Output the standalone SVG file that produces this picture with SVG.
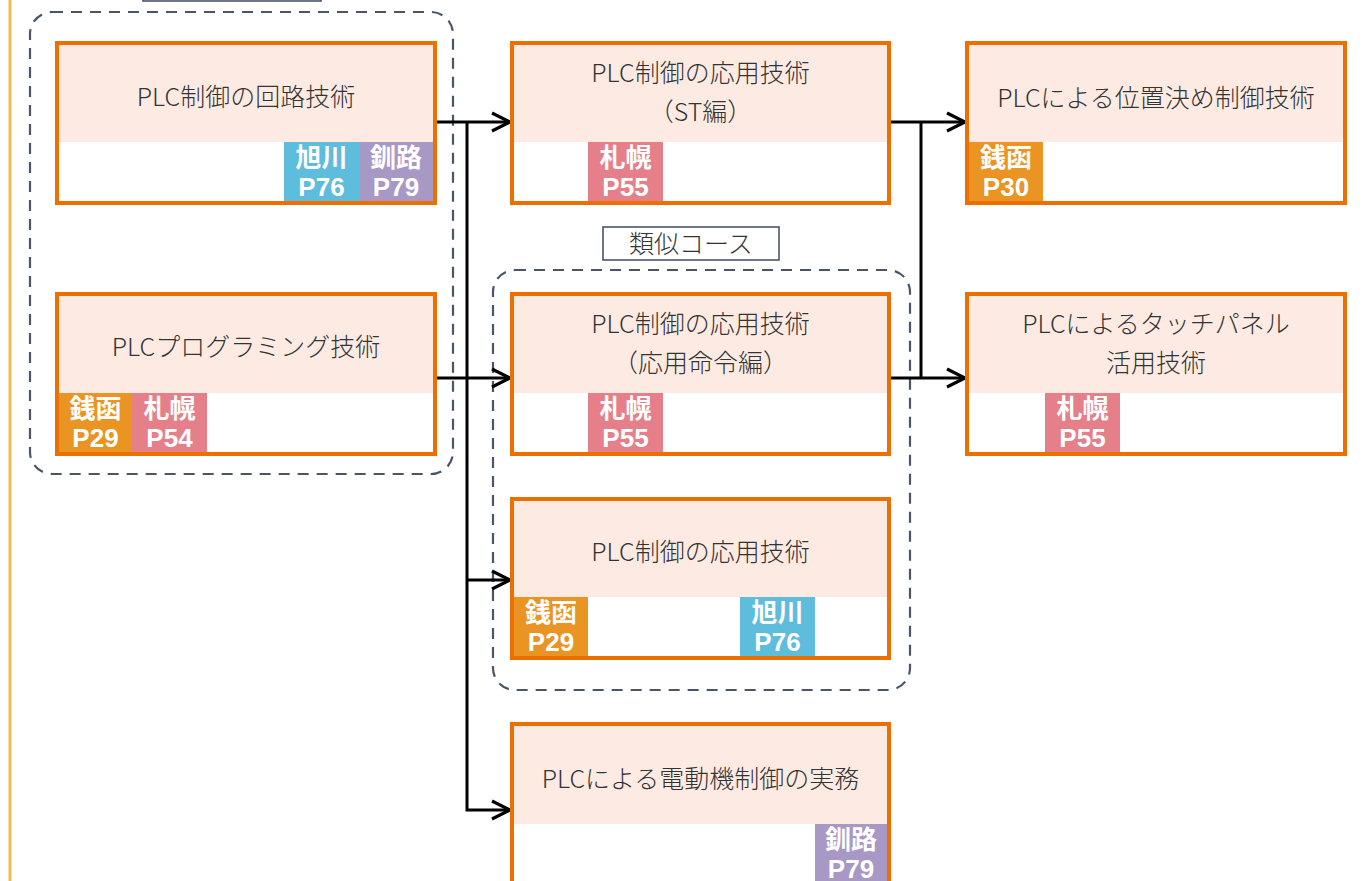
<svg xmlns="http://www.w3.org/2000/svg" width="1368" height="881" viewBox="0 0 1368 881">
<defs>
<style>
.node{fill:none;stroke:#ec6f00;stroke-width:4}
.pink{fill:#fdebe3}
.t{font-family:"Noto Sans CJK JP","Liberation Sans",sans-serif;font-size:25px;fill:#333;text-anchor:middle;font-weight:300}
.b{font-family:"Liberation Sans","Noto Sans CJK JP",sans-serif;font-size:26px;fill:#fff;text-anchor:middle;font-weight:700}
.grp{fill:none;stroke:#4a5568;stroke-width:2.2;stroke-dasharray:11 8}
.lbl{fill:#fff;stroke:#4a5568;stroke-width:1.6}
.c{fill:none;stroke:#000;stroke-width:3}
.zen{fill:#ea9423}.sap{fill:#e5808a}.asa{fill:#5ebcdc}.kus{fill:#a898c6}
</style>
<marker id="ar" viewBox="0 0 24 24" refX="22" refY="12" markerWidth="24" markerHeight="24" markerUnits="userSpaceOnUse" orient="auto">
<path d="M4 3 L22 12 L4 21" fill="none" stroke="#000" stroke-width="3.2"/>
</marker>
</defs>
<rect width="1368" height="881" fill="#fff"/>
<line x1="10" y1="0" x2="10" y2="881" stroke="#f7b955" stroke-width="3"/>
<rect class="lbl" x="143" y="-33" width="178" height="34"/>

<g id="group-left"><rect class="grp" x="30" y="12" width="423" height="462" rx="22"/></g>
<g id="group-similar">
<rect class="grp" x="493" y="270" width="417" height="420" rx="22"/>
<rect class="lbl" x="603" y="227" width="176" height="33"/>
<text class="t" x="691" y="253">類似コース</text>
</g>

<g id="connectors">
<line class="c" x1="435" y1="122" x2="510" y2="122" marker-end="url(#ar)"/>
<polyline class="c" points="467,122 467,810 510,810" marker-end="url(#ar)"/>
<line class="c" x1="435" y1="378" x2="510" y2="378" marker-end="url(#ar)"/>
<line class="c" x1="467" y1="580" x2="510" y2="580" marker-end="url(#ar)"/>
<line class="c" x1="889" y1="122" x2="965" y2="122" marker-end="url(#ar)"/>
<line class="c" x1="921" y1="122" x2="921" y2="378"/>
<line class="c" x1="889" y1="378" x2="965" y2="378" marker-end="url(#ar)"/>
</g>

<g id="n1">
<rect fill="#fff" x="57" y="43" width="378" height="160"/>
<rect class="pink" x="59" y="45" width="374" height="97"/>
<text class="t" x="246" y="106">PLC制御の回路技術</text>
<rect class="asa" x="284" y="142" width="75" height="59"/>
<text class="b" x="321.5" y="167">旭川</text><text class="b" x="321.5" y="196">P76</text>
<rect class="kus" x="359" y="142" width="74" height="59"/>
<text class="b" x="396" y="167">釧路</text><text class="b" x="396" y="196">P79</text>
<rect class="node" x="57" y="43" width="378" height="160"/>
</g>

<g id="n2">
<rect fill="#fff" x="57" y="294" width="378" height="160"/>
<rect class="pink" x="59" y="296" width="374" height="97"/>
<text class="t" x="246" y="356">PLCプログラミング技術</text>
<rect class="zen" x="59" y="393" width="73" height="59"/>
<text class="b" x="95.5" y="418">銭函</text><text class="b" x="95.5" y="447">P29</text>
<rect class="sap" x="132" y="393" width="75" height="59"/>
<text class="b" x="169.5" y="418">札幌</text><text class="b" x="169.5" y="447">P54</text>
<rect class="node" x="57" y="294" width="378" height="160"/>
</g>

<g id="n3">
<rect fill="#fff" x="512" y="43" width="377" height="160"/>
<rect class="pink" x="514" y="45" width="373" height="97"/>
<text class="t" x="700.5" y="82">PLC制御の応用技術</text>
<text class="t" x="700.5" y="121">（ST編）</text>
<rect class="sap" x="588" y="142" width="75" height="59"/>
<text class="b" x="625.5" y="167">札幌</text><text class="b" x="625.5" y="196">P55</text>
<rect class="node" x="512" y="43" width="377" height="160"/>
</g>

<g id="n4">
<rect fill="#fff" x="967" y="43" width="378" height="160"/>
<rect class="pink" x="969" y="45" width="374" height="97"/>
<text class="t" x="1156" y="107">PLCによる位置決め制御技術</text>
<rect class="zen" x="969" y="142" width="74" height="59"/>
<text class="b" x="1006" y="167">銭函</text><text class="b" x="1006" y="196">P30</text>
<rect class="node" x="967" y="43" width="378" height="160"/>
</g>

<g id="n5">
<rect fill="#fff" x="512" y="294" width="377" height="160"/>
<rect class="pink" x="514" y="296" width="373" height="97"/>
<text class="t" x="700.5" y="333">PLC制御の応用技術</text>
<text class="t" x="700.5" y="372">（応用命令編）</text>
<rect class="sap" x="588" y="393" width="75" height="59"/>
<text class="b" x="625.5" y="418">札幌</text><text class="b" x="625.5" y="447">P55</text>
<rect class="node" x="512" y="294" width="377" height="160"/>
</g>

<g id="n6">
<rect fill="#fff" x="967" y="294" width="378" height="160"/>
<rect class="pink" x="969" y="296" width="374" height="97"/>
<text class="t" x="1156" y="333">PLCによるタッチパネル</text>
<text class="t" x="1156" y="372">活用技術</text>
<rect class="sap" x="1045" y="393" width="75" height="59"/>
<text class="b" x="1082.5" y="418">札幌</text><text class="b" x="1082.5" y="447">P55</text>
<rect class="node" x="967" y="294" width="378" height="160"/>
</g>

<g id="n7">
<rect fill="#fff" x="512" y="499" width="377" height="159"/>
<rect class="pink" x="514" y="501" width="373" height="96"/>
<text class="t" x="700.5" y="561">PLC制御の応用技術</text>
<rect class="zen" x="514" y="597" width="74" height="59"/>
<text class="b" x="551" y="622">銭函</text><text class="b" x="551" y="651">P29</text>
<rect class="asa" x="740" y="597" width="75" height="59"/>
<text class="b" x="777.5" y="622">旭川</text><text class="b" x="777.5" y="651">P76</text>
<rect class="node" x="512" y="499" width="377" height="159"/>
</g>

<g id="n8">
<rect fill="#fff" x="512" y="724" width="377" height="160"/>
<rect class="pink" x="514" y="726" width="373" height="98"/>
<text class="t" x="700.5" y="788">PLCによる電動機制御の実務</text>
<rect class="kus" x="815" y="824" width="72" height="59"/>
<text class="b" x="851" y="849">釧路</text><text class="b" x="851" y="878">P79</text>
<rect class="node" x="512" y="724" width="377" height="160"/>
</g>
</svg>
